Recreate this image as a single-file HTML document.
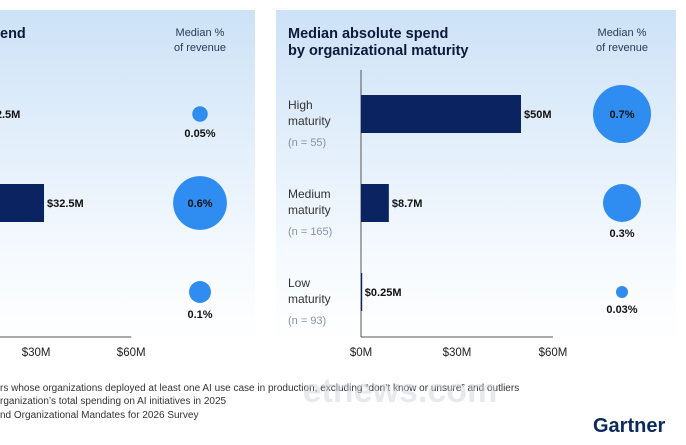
<!DOCTYPE html>
<html><head><meta charset="utf-8"><style>
body{margin:0;width:686px;height:440px;overflow:hidden;background:#fff;font-family:"Liberation Sans",sans-serif}
</style></head><body>
<svg id="c" width="686" height="440" xmlns="http://www.w3.org/2000/svg">
<defs><linearGradient id="g" x1="0" y1="0" x2="0" y2="1"><stop offset="0" stop-color="#cde2f7"/><stop offset="0.75" stop-color="#f6fafe"/><stop offset="1" stop-color="#ffffff"/></linearGradient></defs>
<rect x="0" y="10" width="255" height="332" fill="url(#g)"/>
<rect x="276" y="10" width="400" height="332" fill="url(#g)"/>
<text x="0" y="38" font-size="14.5" font-weight="bold" fill="#0c1a3a">end</text>
<text x="288" y="38" font-size="14.5" font-weight="bold" fill="#0c1a3a"><tspan x="288">Median absolute spend</tspan><tspan x="288" dy="17">by organizational maturity</tspan></text>
<g font-size="11" fill="#2a3a5a" text-anchor="middle"><text x="200" y="36">Median %</text><text x="200" y="51">of revenue</text></g>
<g font-size="11" fill="#2a3a5a" text-anchor="middle"><text x="622" y="36">Median %</text><text x="622" y="51">of revenue</text></g>
<g id="plot"></g>
<g font-size="10" fill="#333">
<text x="0" y="391">rs whose organizations deployed at least one AI use case in production, excluding “don’t know or unsure” and outliers</text>
<text x="0" y="404">rganization’s total spending on AI initiatives in 2025</text>
<text x="0" y="418">nd Organizational Mandates for 2026 Survey</text>
</g>
<text x="400" y="402" font-size="34" font-weight="bold" fill="#d0d4dc" opacity="0.5" text-anchor="middle">etnews.com</text>
<text x="593" y="432" font-size="20" font-weight="bold" fill="#0b2a5e">Gartner</text>
</svg>
<script>
const leftSpend=[12.5,32.5,0];
const leftPct=[0.05,0.6,0.1];
const leftPctLabels=["0.05%","0.6%","0.1%"];
const leftSpendLabels=["$12.5M","$32.5M",""];
const rightCats=["High","Medium","Low"];
const rightN=[55,165,93];
const rightSpend=[50,8.7,0.25];
const rightSpendLabels=["$50M","$8.7M","$0.25M"];
const rightPct=[0.7,0.3,0.03];
const rightPctLabels=["0.7%","0.3%","0.03%"];
const ticks=[0,30,60];
const tickLabels=["$0M","$30M","$60M"];
const NS="http://www.w3.org/2000/svg";
const P=document.getElementById('plot');
function mk(t,a,txt){const e=document.createElementNS(NS,t);for(const k in a)e.setAttribute(k,a[k]);if(txt!==undefined)e.textContent=txt;P.appendChild(e);return e;}
const rowY=[114,203,292];
const rScale=v=>34.7*Math.sqrt(v);
function panel(x0,scale,spend,spendL,pct,pctL,bx,pre){
  const X=v=>x0+v*scale;
  mk('line',{x1:Math.max(0,X(0)),y1:337,x2:X(60),y2:337,stroke:'#555','stroke-width':1});
  if(X(0)>0)mk('line',{x1:X(0),y1:70,x2:X(0),y2:337,stroke:'#555','stroke-width':1});
  ticks.forEach((t,i)=>{if(X(t)<0)return;const e=mk('text',{x:X(t),y:356,'font-size':11.5,fill:'#222','text-anchor':'middle'},tickLabels[i]);
  
  });
  spend.forEach((v,i)=>{const y=rowY[i];
    const r=mk('rect',{x:X(0),y:y-19,width:Math.max(1.2,v*scale),height:38,fill:'#0b2361'});
    
    
    if(spendL[i]){const t=mk('text',{x:X(v)+3,y:y+4,'font-size':11,'font-weight':'bold',fill:'#111'},spendL[i]);
    
    }
    const rr=rScale(pct[i]);
    const c=mk('circle',{cx:bx,cy:y,r:rr,fill:'#2f8cf0'});
    
    
    const inside=rr>24;
    const t2=mk('text',{x:bx,y:inside?y+4:y+rr+15,'font-size':11,'font-weight':'bold',fill:'#111','text-anchor':'middle'},pctL[i]);
    
    
  });
}
panel(-59,3.17,leftSpend,leftSpendLabels,leftPct,leftPctLabels,200,'left-');
panel(361,3.2,rightSpend,rightSpendLabels,rightPct,rightPctLabels,622,'right-');
rightCats.forEach((c,i)=>{const y=rowY[i];
  const a=mk('text',{x:288,y:y-5,'font-size':12,fill:'#333'},c);
  
  
  const b=mk('text',{x:288,y:y+11,'font-size':12,fill:'#333'},'maturity');
  
  
  const n=mk('text',{x:288,y:y+32,'font-size':11,fill:'#8892a4'},'(n = '+rightN[i]+')');
  
  
});
</script>
</body></html>
